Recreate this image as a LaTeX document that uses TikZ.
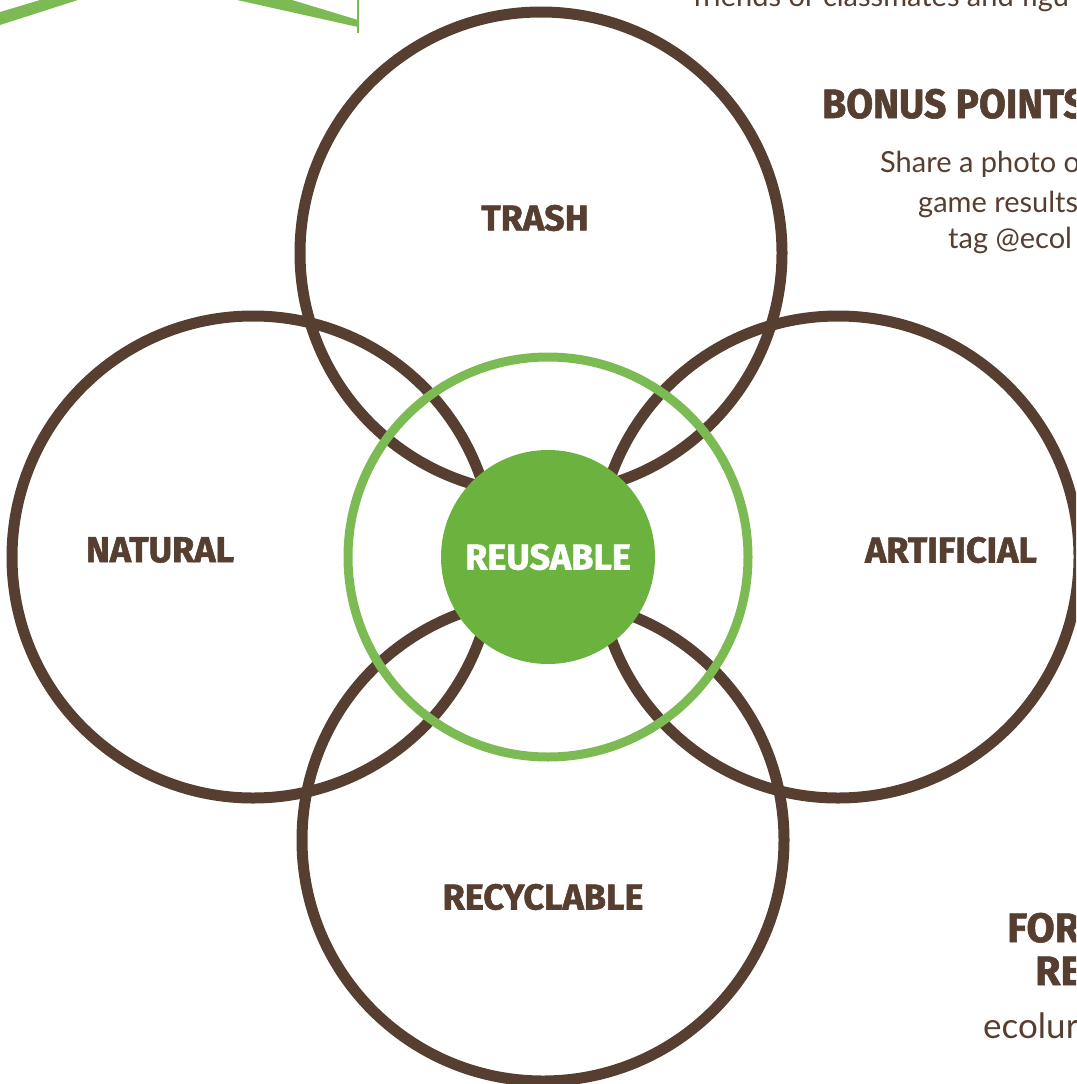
\documentclass[tikz,border=0pt]{standalone}
\usepackage{fontspec}
\setmainfont{Lato}
\newfontfamily\tagfont{Fira Sans}[BoldFeatures={FakeBold=1.5}]
\usepackage{tikz}
\usetikzlibrary{positioning}

\definecolor{bark}{HTML}{563E31}
\definecolor{leaf}{HTML}{7CBB53}
\definecolor{moss}{HTML}{6BB23E}

\begin{document}
\begin{tikzpicture}[x=1pt,y=-1pt,node distance=295pt,
  ring/.style={circle,draw=bark,line width=11pt,minimum size=482pt,inner sep=0pt},
  hoop/.style={circle,draw=leaf,line width=9pt,minimum size=400pt,inner sep=0pt},
  core/.style={circle,fill=moss,minimum size=214pt,inner sep=0pt,text=white,font=\tagfont\bfseries\fontsize{36}{40}\selectfont},
  tag/.style={text=bark,inner sep=0pt,font=\tagfont\bfseries\fontsize{36}{40}\selectfont},
  head/.style={text=bark,inner sep=0pt,anchor=base west,font=\tagfont\bfseries\fontsize{41}{48}\selectfont},
  note/.style={text=bark,inner sep=0pt,anchor=base west,font=\fontsize{29}{34}\selectfont}]
	  \useasboundingbox (0,0) rectangle (1076,1084);
	  \clip (0,0) rectangle (1076,1084);
	  \coordinate (O) at (548,557);
	  \node[ring] (T) [above of=O, node distance=304pt, xshift=-7pt] {};
	  \node[ring] (N) [left of=O] {};
	  \node[ring] (A) [right of=O, node distance=290pt] {};
	  \node[ring] (C) [below of=O, node distance=283pt, xshift=-5pt] {};
	  \node[hoop] (G) at (O) {};
	  \node[core] (R) at (O) {REUSABLE};
	  \node[tag] (t) [above of=T, node distance=35pt, xshift=-6pt] {TRASH};
	  \node[tag] (n) [left of=N, node distance=93pt, yshift=7pt] {NATURAL};
	  \node[tag] (a) [right of=A, node distance=113pt, yshift=7pt] {ARTIFICIAL};
	  \node[tag] (c) [below of=C, node distance=57pt] {RECYCLABLE};
	  % cut-off text round the edges
	  \node[note] (f) at (693,6) {friends or classmates and figu};
	  \node[head] (b) at (822,118) {\scalebox{0.95}[1]{BONUS POINTS}};
	  \node[note] (s1) at (880,172) {Share a photo o};
	  \node[note] (s2) at (918,212) {game results};
	  \node[note] (s3) at (948,248) {tag @ecol};
	  \node[head] (r1) at (1007,942) {FOR};
	  \node[head] (r2) at (1035,985) {RE};
	  \node[note, font=\fontsize{35}{40}\selectfont] (e) at (983,1038) {ecolur};
	  \fill[leaf] (0,12) -- (40,0) -- (78,0) -- (0,25) -- cycle;
	  \fill[leaf] (237,0) -- (292,0) -- (358,20) -- (358,27) -- cycle;
	  \draw[leaf,line width=1.5pt] (358,0) -- (358,33);
	\end{tikzpicture}
\end{document}
